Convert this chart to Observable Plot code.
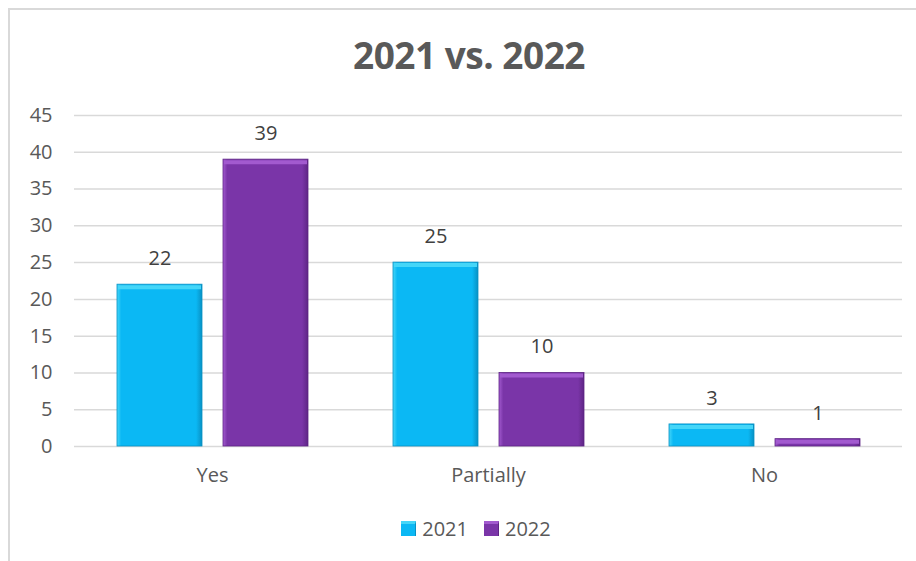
<!DOCTYPE html>
<html>
<head>
<meta charset="utf-8">
<script src="https://cdn.jsdelivr.net/npm/d3@7"></script>
<script src="https://cdn.jsdelivr.net/npm/@observablehq/plot@0.6"></script>
<style>
  html, body { margin: 0; padding: 0; background: #fff; }
  #wrap { position: relative; width: 916px; height: 561px; overflow: hidden; font-family: "Open Sans", sans-serif; }
  #frame { position: absolute; left: 8px; top: 8px; width: 940px; height: 600px; border: 2px solid #D9D9D9; box-sizing: border-box; }
  #title { position: absolute; left: 0; width: 938px; top: 29px; text-align: center; font-size: 37px; font-weight: 700; color: #595959; letter-spacing: -0.5px; }
  #chart { position: absolute; left: 0; top: 0; }
  #legend { position: absolute; top: 515px; left: 0; width: 916px; display: flex; justify-content: center; align-items: center; font-size: 20px; color: #595959; padding-left: 36px; box-sizing: border-box; }
  .item { display: flex; align-items: center; margin: 0 8px; }
  .sw { width: 15px; height: 15px; margin-right: 6px; box-sizing: border-box; }
</style>
</head>
<body>
<div id="wrap">
  <div id="frame"></div>
  <div id="title">2021 vs. 2022</div>
  <div id="chart"></div>
  <div id="legend"></div>
</div>
<script>
const categories = ["Yes", "Partially", "No"];
const years = ["2021", "2022"];
const values2021 = [22, 25, 3];
const values2022 = [39, 10, 1];
const yTicks = [0, 5, 10, 15, 20, 25, 30, 35, 40, 45];
const colors = ["#0BB8F4", "#7A35A8"];
const topColors = ["#45D6F8", "#A25ACF"];
const darkColors = ["#0891C4", "#5E2585"];

const data = [];
categories.forEach((c, i) => {
  data.push({category: c, year: years[0], value: values2021[i]});
  data.push({category: c, year: years[1], value: values2022[i]});
});

const defs = () => {
  const d = d3.create("svg:defs");
  years.forEach((y, i) => {
    const g = d.append("linearGradient").attr("id", "g" + y).attr("x1", 0).attr("x2", 1).attr("y1", 0).attr("y2", 0);
    g.append("stop").attr("offset", "0%").attr("stop-color", topColors[i]);
    g.append("stop").attr("offset", "5%").attr("stop-color", colors[i]);
    g.append("stop").attr("offset", "93%").attr("stop-color", colors[i]);
    g.append("stop").attr("offset", "100%").attr("stop-color", darkColors[i]);
  });
  return d.node();
};

const chart = Plot.plot({
  width: 916,
  height: 496,
  marginLeft: 73,
  marginRight: 14,
  marginTop: 115,
  marginBottom: 50,
  style: {fontFamily: "Open Sans, sans-serif", fontSize: "20px", color: "#595959", background: "transparent"},
  fx: {domain: categories, padding: 0, label: null, tickSize: 0, tickPadding: 21},
  x: {domain: years, paddingInner: 0.2, paddingOuter: 0.4, axis: null},
  y: {domain: [0, 45], ticks: yTicks, label: null, tickSize: 0, tickPadding: 22},
  color: {domain: years, range: colors},
  marks: [
    defs,
    Plot.ruleY(yTicks, {stroke: "#D9D9D9", strokeWidth: 1.5}),
    Plot.barY(data.filter(d => d.year === years[0]), {fx: "category", x: "year", y: "value", fill: "url(#g2021)", stroke: darkColors[0], strokeWidth: 0.8}),
    Plot.barY(data.filter(d => d.year === years[1]), {fx: "category", x: "year", y: "value", fill: "url(#g2022)", stroke: darkColors[1], strokeWidth: 0.8}),
    Plot.tickY(data, {fx: "category", x: "year", y: "value", stroke: d => d.year === years[0] ? topColors[0] : topColors[1], strokeWidth: 4, dy: 2.5, inset: 1}),
    Plot.text(data, {fx: "category", x: "year", y: "value", text: d => String(d.value), dy: -26, fontSize: 20, fill: "#404040"})
  ]
});
document.getElementById("chart").appendChild(chart);

const legend = document.getElementById("legend");
years.forEach((y, i) => {
  const it = document.createElement("div");
  it.className = "item";
  const sw = document.createElement("div");
  sw.className = "sw";
  sw.style.background = colors[i];
  sw.style.borderTop = "3px solid " + topColors[i];
  sw.style.borderRight = "1px solid " + darkColors[i];
  const t = document.createElement("span");
  t.textContent = y;
  it.appendChild(sw);
  it.appendChild(t);
  legend.appendChild(it);
});
</script>
</body>
</html>
